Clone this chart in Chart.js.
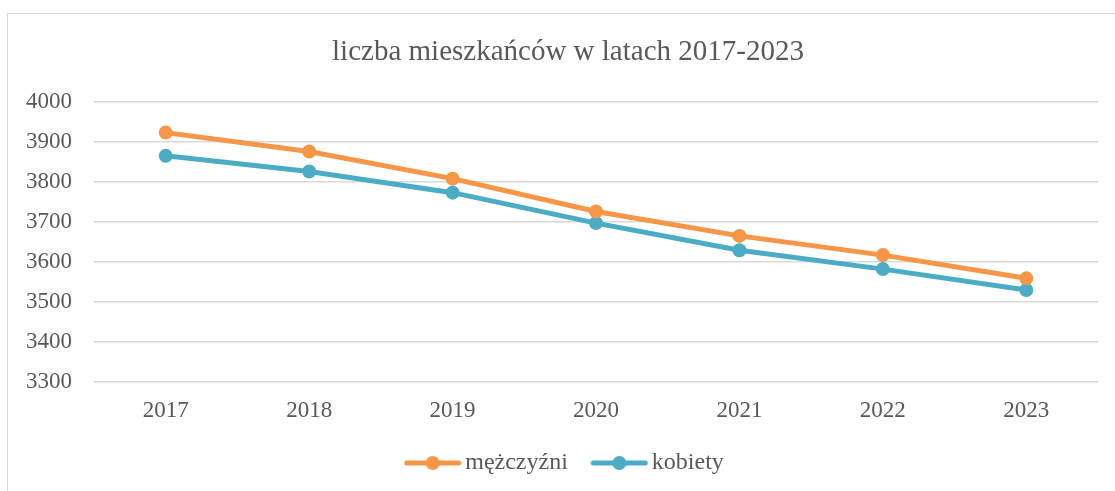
<!DOCTYPE html>
<html>
<head>
<meta charset="utf-8">
<script src="https://cdn.jsdelivr.net/npm/chart.js@4"></script>
<style>
  html, body { margin: 0; padding: 0; background: #fff; overflow: hidden; }
  #frame { position: absolute; left: 7px; top: 13px; width: 1200px; height: 600px; border: 1.5px solid #d9d9d9; }
  #wrap { position: absolute; left: 0; top: 0; width: 1153px; height: 491px; }
</style>
</head>
<body>
<div id="frame"></div>
<div id="wrap"><canvas id="c" width="1153" height="491"></canvas></div>
<script>
const chartTitle = 'liczba mieszkańców w latach 2017-2023';
const categories = ['2017', '2018', '2019', '2020', '2021', '2022', '2023'];
const seriesNames = ['mężczyźni', 'kobiety'];
const men = [3923, 3876, 3808, 3726, 3665, 3617, 3559];
const women = [3865, 3826, 3773, 3697, 3629, 3582, 3530];
const yMin = 3300, yMax = 4000, yStep = 100;

const ORANGE = '#F79646';
const TEAL = '#4BACC6';
const TEXT = '#595959';
const FONT = "'Liberation Serif', 'Times New Roman', serif";

function legendIcon(color) {
  const cv = document.createElement('canvas');
  cv.width = 58; cv.height = 16;
  const g = cv.getContext('2d');
  g.strokeStyle = color; g.lineWidth = 5; g.lineCap = 'round';
  g.beginPath(); g.moveTo(3, 8); g.lineTo(55, 8); g.stroke();
  g.fillStyle = color;
  g.beginPath(); g.arc(29, 8, 7, 0, Math.PI * 2); g.fill();
  return cv;
}
const icons = [legendIcon(ORANGE), legendIcon(TEAL)];

new Chart(document.getElementById('c'), {
  type: 'line',
  data: {
    labels: categories,
    datasets: [
      { label: seriesNames[0], data: men, borderColor: ORANGE, backgroundColor: ORANGE,
        borderWidth: 5, pointRadius: 7, pointHoverRadius: 7, pointBorderWidth: 0, tension: 0 },
      { label: seriesNames[1], data: women, borderColor: TEAL, backgroundColor: TEAL,
        borderWidth: 5, pointRadius: 7, pointHoverRadius: 7, pointBorderWidth: 0, tension: 0 }
    ]
  },
  options: {
    responsive: false,
    animation: false,
    layout: { padding: { left: 0, right: 17, top: 0, bottom: 6 } },
    plugins: {
      title: {
        display: true, text: chartTitle, color: TEXT,
        font: { family: FONT, size: 29, weight: 'normal' },
        padding: { top: 35, bottom: 32 }
      },
      legend: {
        position: 'bottom',
        labels: {
          color: TEXT,
          font: { family: FONT, size: 24 },
          usePointStyle: true,
          pointStyleWidth: 41,
          boxWidth: 41, boxHeight: 16,
          padding: 31,
          generateLabels: (chart) => chart.data.datasets.map((ds, i) => ({
            text: ds.label, pointStyle: icons[i], fontColor: TEXT,
            strokeStyle: ds.borderColor, fillStyle: ds.backgroundColor,
            lineWidth: 0, hidden: false, datasetIndex: i
          }))
        }
      },
      tooltip: { enabled: false }
    },
    scales: {
      x: {
        offset: true,
        grid: { display: false },
        border: { display: false },
        ticks: { color: TEXT, font: { family: FONT, size: 23 }, padding: 7 },
        afterFit: (s) => { s.height = 38; }
      },
      y: {
        min: yMin, max: yMax,
        grid: { color: '#d9d9d9', lineWidth: 1.5, drawTicks: false },
        border: { display: false },
        ticks: { stepSize: yStep, color: TEXT, font: { family: FONT, size: 23 }, padding: 22,
                 callback: (v) => String(v) },
        afterFit: (s) => { s.width = 94; }
      },
      spacer: {
        type: 'linear', position: 'right', display: true,
        grid: { display: false }, border: { display: false },
        ticks: { display: false },
        afterFit: (s) => { s.width = 38; }
      }
    }
  }
});
</script>
</body>
</html>
